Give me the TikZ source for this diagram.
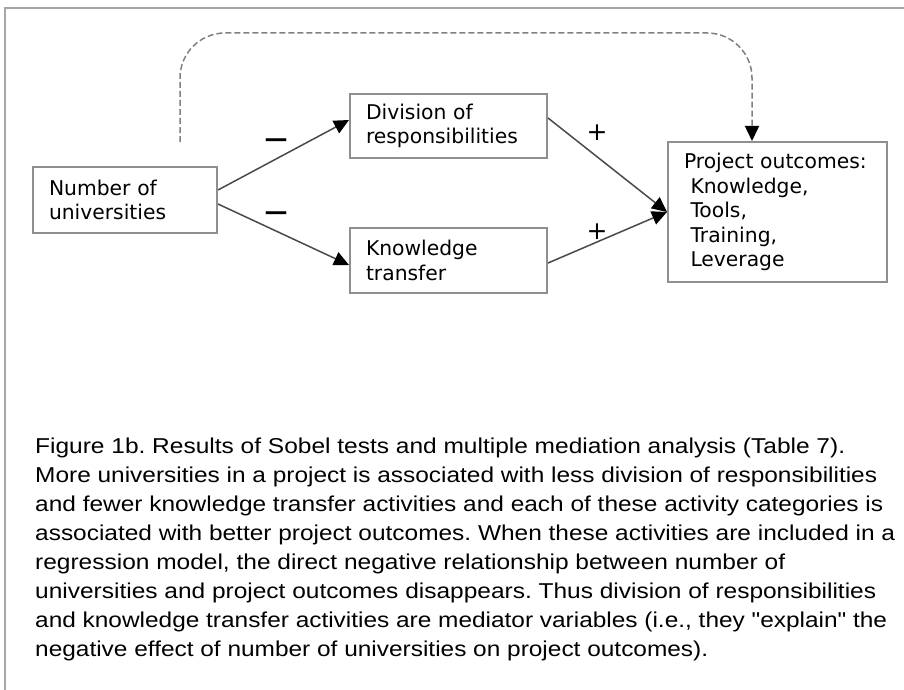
\documentclass[tikz,border=0pt]{standalone}
\usepackage{fontspec}
\usepackage{graphicx}
\setmainfont{DejaVu Sans}
\newfontfamily\capfont{Liberation Sans}
\usetikzlibrary{arrows.meta,positioning}

\definecolor{framegray}{HTML}{A6A6A6}
\definecolor{boxgray}{HTML}{8F8F8F}
\definecolor{linkgray}{HTML}{4A4A4A}
\definecolor{dashgray}{HTML}{808080}

% set a caption line stretched horizontally to a given width (in pt)
\newsavebox\caplinebox
\newcommand\fitline[2]{%
  \sbox\caplinebox{#2}%
  \scalebox{\fpeval{#1/\wd\caplinebox}}[1]{\usebox\caplinebox}}

\tikzset{
  varbox/.style={draw=boxgray, line width=2pt, fill=white, align=left,
    inner xsep=16pt, inner ysep=0pt, font=\fontsize{20.3}{24.5}\selectfont},
  link/.style={draw=linkgray, line width=1.5pt,
    -{Triangle[length=15pt,width=14pt,fill=black,color=black]}},
  sign/.style={inner sep=0pt},
  capline/.style={anchor=base west, inner sep=0pt,
    font=\capfont\fontsize{21.5}{24}\selectfont\frenchspacing}
}

\begin{document}
\begin{tikzpicture}[x=1pt,y=-1pt]
  \useasboundingbox (0,0) rectangle (904,690);
  \fill[white] (0,0) rectangle (904,690);

  % outer frame, open on the right and at the bottom
  \draw[framegray, line width=2pt] (5,690) -- (5,8) -- (904,8);

  % variables
  \node[varbox, text width=152pt, minimum height=66pt] (num) at (125,200)
    {Number of\\universities};
  \node[varbox, text width=165pt, minimum height=64pt] (div) at (448.5,126)
    {Division of\\responsibilities};
  \node[varbox, text width=165pt, minimum height=65pt] (kt) at (448.5,260.5)
    {Knowledge\\transfer};
  \node[varbox, text width=187pt, minimum height=140pt] (pro) at (777.5,212)
    {Project outcomes:\\
     \hspace*{0.32em}Knowledge,\\
     \hspace*{0.32em}Tools,\\
     \hspace*{0.32em}Training,\\
     \hspace*{0.32em}Leverage};

  % mediated paths
  \draw[link] ([yshift=10pt]num.east) -- ([yshift=6pt]div.west);
  \draw[link] ([yshift=-4pt]num.east) -- ([yshift=-4.5pt]kt.west);
  \draw[link] ([yshift=8pt]div.east) -- (pro.west);
  \draw[link] ([yshift=-2.5pt]kt.east) -- (pro.west);

  % direct path (dashed)
  \coordinate (dstart) at (180,142);
  \coordinate (dtop) at (752,33);
  \draw[dashgray, line width=1.5pt, dash pattern=on 6pt off 3pt,
        rounded corners=45pt,
        -{Triangle[length=15pt,width=14pt,fill=black,color=black]}]
    (dstart) |- (dtop) -- (dtop |- pro.north);

  % signs of the effects
  \node[sign, font=\fontsize{23}{23}\selectfont\bfseries] (m1) at (276,143) {—};
  \node[sign, font=\fontsize{23}{23}\selectfont\bfseries] (m2) at (276,216) {—};
  \node[sign, font=\fontsize{25}{25}\selectfont] (p1) at (597,133) {+};
  \node[sign, font=\fontsize{25}{25}\selectfont] (p2) at (597,232) {+};

  % caption
  \node[capline] (c1) at (35,453.5) {\fitline{810}{Figure 1b. Results of Sobel tests and multiple mediation analysis (Table 7).}};
  \node[capline] (c2) at (35,482.5) {\fitline{842}{More universities in a project is associated with less division of responsibilities}};
  \node[capline] (c3) at (35,511.6) {\fitline{848}{and fewer knowledge transfer activities and each of these activity categories is}};
  \node[capline] (c4) at (35,540.6) {\fitline{860}{associated with better project outcomes. When these activities are included in a}};
  \node[capline] (c5) at (35,569.7) {\fitline{750}{regression model, the direct negative relationship between number of}};
  \node[capline] (c6) at (35,598.7) {\fitline{841}{universities and project outcomes disappears. Thus division of responsibilities}};
  \node[capline] (c7) at (35,627.8) {\fitline{852}{and knowledge transfer activities are mediator variables (i.e., they "explain" the}};
  \node[capline] (c8) at (35,656.8) {\fitline{673}{negative effect of number of universities on project outcomes).}};
\end{tikzpicture}
\end{document}
